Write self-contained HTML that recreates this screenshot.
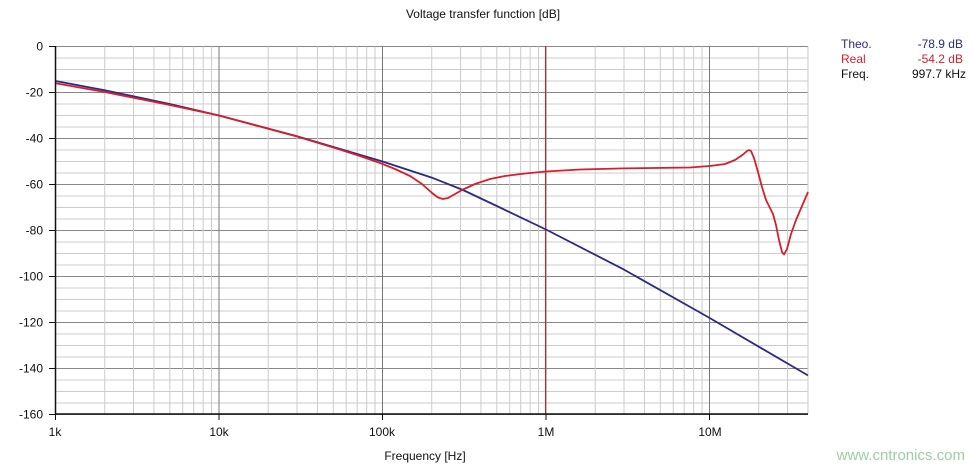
<!DOCTYPE html>
<html><head><meta charset="utf-8"><style>
body{margin:0;background:#fff;}
svg{display:block;font-family:"Liberation Sans",Arial,sans-serif;}
</style></head><body>
<svg id="s" width="975" height="469" xmlns="http://www.w3.org/2000/svg">
<rect width="975" height="469" fill="#fff"/>
<g id="grid"></g>
<text x="483" y="18" font-size="12" text-anchor="middle" fill="#111">Voltage transfer function [dB]</text>
<text x="425" y="460" font-size="12" text-anchor="middle" fill="#111">Frequency [Hz]</text>
<g font-size="12" fill="#111">
<text x="55" y="436" text-anchor="middle">1k</text>
<text x="219" y="436" text-anchor="middle">10k</text>
<text x="382" y="436" text-anchor="middle">100k</text>
<text x="546" y="436" text-anchor="middle">1M</text>
<text x="710" y="436" text-anchor="middle">10M</text>
</g>
<g font-size="12">
<text x="841" y="48" fill="#2a2a88">Theo.</text>
<text x="841" y="63" fill="#d81e2a">Real</text>
<text x="841" y="78" fill="#111">Freq.</text>
<text x="963" y="48" fill="#2a2a88" text-anchor="end">-78.9  dB</text>
<text x="963" y="63" fill="#d81e2a" text-anchor="end">-54.2  dB</text>
<text x="966" y="78" fill="#111" text-anchor="end">997.7  kHz</text>
</g>
<text x="965" y="460" font-size="15" fill="#9ad0a0" text-anchor="end">www.cntronics.com</text>
<line x1="545.5" y1="46" x2="545.5" y2="414" stroke="#d81e2a" stroke-width="1"/>
<polyline fill="none" stroke="#2a2a88" stroke-width="1.8" stroke-linejoin="round" points="55.5,81 104.7,90.2 169.8,104 219,115.5 297,136.2 382.5,161.5 431.7,177.6 463,190 496.8,206 546,229.5 624,269.6 709.5,317.9 807.9,375.4"/>
<polyline fill="none" stroke="#d81e2a" stroke-width="1.8" stroke-linejoin="round" points="55.5,83.3 104.7,92 169.8,105 219,115.5 297,136.5 333.8,147.7 360,156 380,163 395,169 410,176 422,184 432,193 438,197.5 443,199 448,198 455,194 463,189.5 475,184 490,179 505,176 525,173.5 546,171.5 580,169.5 624,168.4 690,167.5 710,166 725,164 735,160 743,154.5 747,151 749,150 751,151 754,158 758,172 762,187 766,200 770,208 773,214 776,225 779,240 782,252 784,254.5 787,249 791,234 796,220 802,206 808,192"/>
<line x1="55.5" y1="46" x2="55.5" y2="414.5" stroke="#111" stroke-width="1.5"/>
<line x1="55" y1="414" x2="808" y2="414" stroke="#111" stroke-width="1.5"/>
</svg>
<script>
var g=document.getElementById('grid'),h='';
var L=55.5,R=808,T=46.5,B=414;
for(var d=0;d<=160;d+=5){var y=T+d*2.3;var maj=d%20==0;
h+='<line x1="'+L+'" x2="'+R+'" y1="'+y+'" y2="'+y+'" stroke="'+(maj?'#888':'#ccc')+'" stroke-width="1"/>';
if(maj){h+='<line x1="49" x2="'+L+'" y1="'+y+'" y2="'+y+'" stroke="#111"/>';
h+='<text x="43" y="'+(y+4)+'" font-size="12" fill="#111" text-anchor="end">'+(d?'-'+d:'0')+'</text>';}}
for(var e=0;e<5;e++)for(var m=1;m<10;m++){var x=L+163.5*(e+Math.log10(m));if(x>R)break;
h+='<line x1="'+x+'" x2="'+x+'" y1="'+T+'" y2="'+B+'" stroke="'+(m==1?'#777':'#ccc')+'" stroke-width="1"/>';
if(m==1)h+='<line x1="'+x+'" x2="'+x+'" y1="'+B+'" y2="'+(B+6)+'" stroke="#111"/>';}
h+='<line x1="'+R+'" x2="'+R+'" y1="'+T+'" y2="'+B+'" stroke="#ccc"/>';
g.innerHTML=h;
</script>
</body></html>
